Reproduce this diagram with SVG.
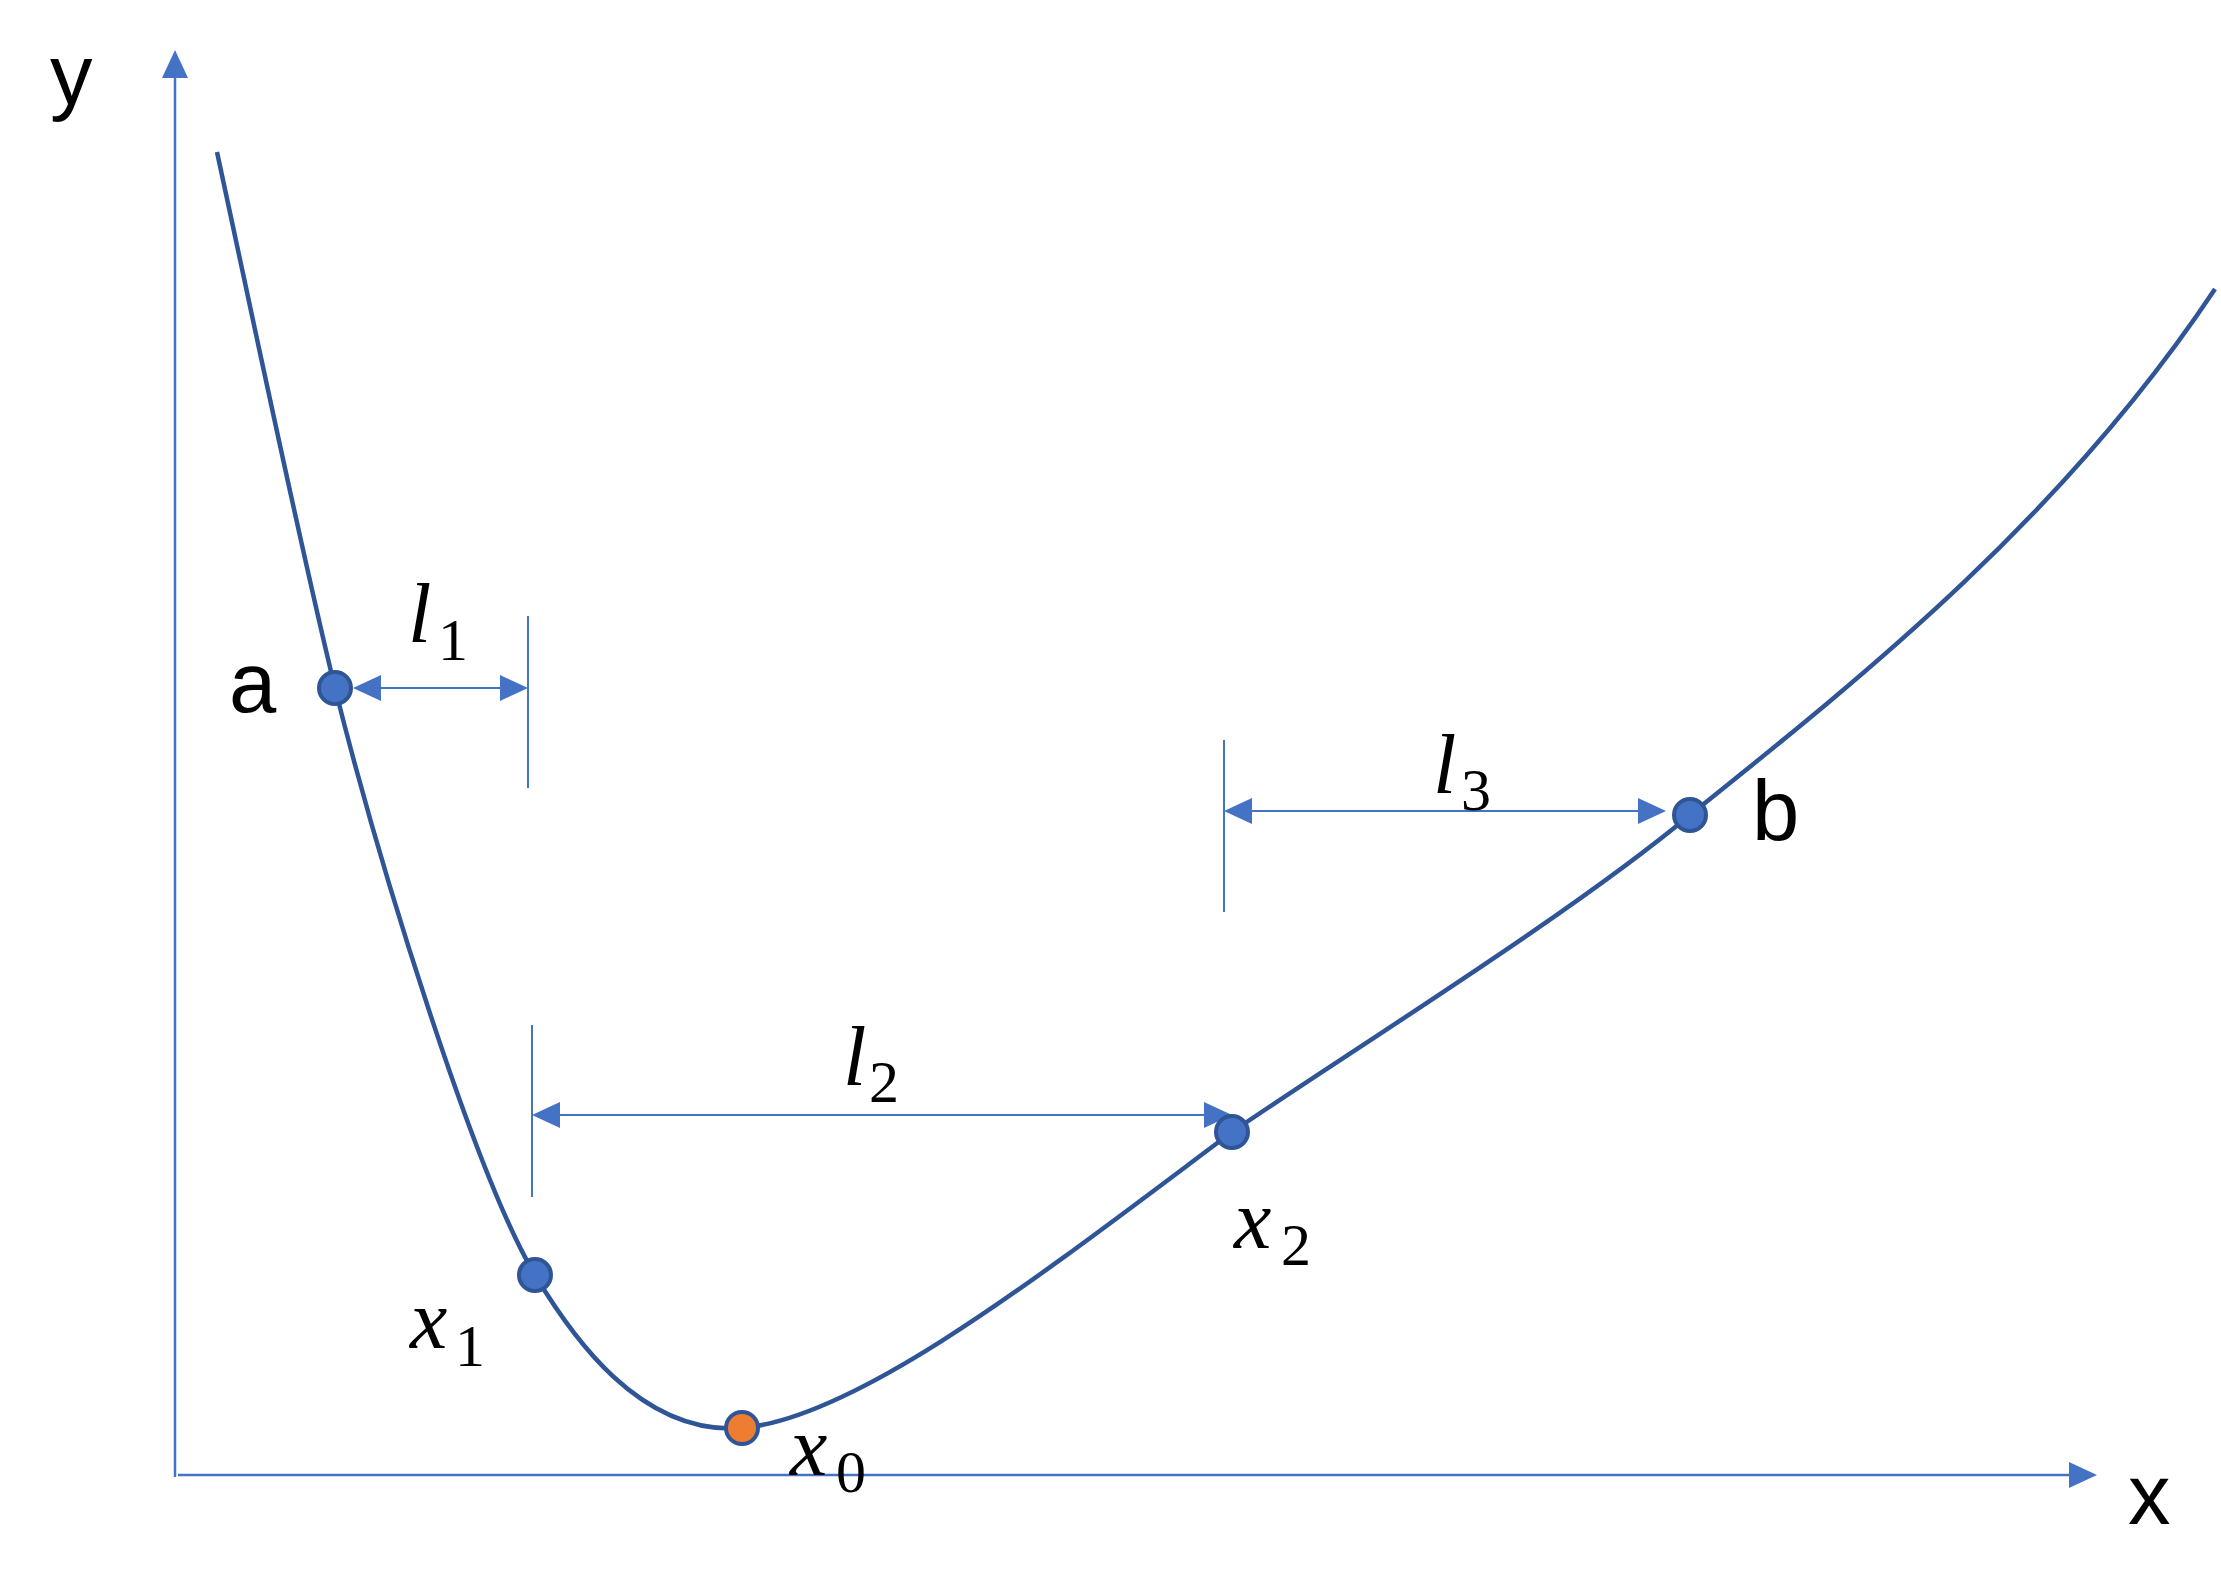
<svg xmlns="http://www.w3.org/2000/svg" width="2221" height="1593" viewBox="0 0 2221 1593">
<style>
.axis{stroke:#4472C4;stroke-width:2.5;fill:none}
.dim{stroke:#4472C4;stroke-width:2;fill:none}
.curve{stroke:#2F5597;stroke-width:4.5;fill:none;stroke-linecap:butt}
.dot{fill:#4472C4;stroke:#2F5597;stroke-width:4}
.dot0{fill:#ED7D31;stroke:#2F5597;stroke-width:4}
.lbl{font-family:"Liberation Sans",Arial,sans-serif;font-size:85px;fill:#000}
.mi{font-family:"Liberation Serif","Times New Roman",serif;font-style:italic;font-size:84px;fill:#000}
.sub{font-family:"Liberation Serif","Times New Roman",serif;font-size:60px;fill:#000}
.ah{fill:#4472C4}
</style>
<rect width="2221" height="1593" fill="#fff"/>
<g id="axes">
<line class="axis" x1="175" y1="1477" x2="175" y2="75"/>
<polygon class="ah" points="175,50 162,78 188,78"/>
<line class="axis" x1="178" y1="1475" x2="2072" y2="1475"/>
<polygon class="ah" points="2097,1475 2069,1462 2069,1488"/>
<text class="lbl" x="50" y="104">y</text>
<text class="lbl" x="2128" y="1524">x</text>
</g>
<g id="connectors">
<path class="curve" d="M217,152 C260,352 300,545 335,688 C380,868 475,1175 535,1275 C571,1335 640,1436 742,1428 C860,1418 1050,1268 1232,1132 C1352,1050 1570,915 1690,815 C1870,671 2065,514 2215,289"/>
<g id="dim-l1">
<line class="dim" x1="528" y1="616" x2="528" y2="788"/>
<line class="dim" x1="370" y1="688" x2="510" y2="688"/>
<polygon class="ah" points="353,688 381,675 381,701"/>
<polygon class="ah" points="528,688 500,675 500,701"/>
</g>
<g id="dim-l2">
<line class="dim" x1="532" y1="1025" x2="532" y2="1197"/>
<line class="dim" x1="550" y1="1115" x2="1210" y2="1115"/>
<polygon class="ah" points="532,1115 560,1102 560,1128"/>
<polygon class="ah" points="1232,1115 1204,1102 1204,1128"/>
</g>
<g id="dim-l3">
<line class="dim" x1="1224" y1="740" x2="1224" y2="912"/>
<line class="dim" x1="1240" y1="811" x2="1645" y2="811"/>
<polygon class="ah" points="1224,811 1252,798 1252,824"/>
<polygon class="ah" points="1666,811 1638,798 1638,824"/>
</g>
</g>
<g id="node-a">
<circle class="dot" cx="335" cy="688" r="16"/>
<text class="lbl" x="229" y="712">a</text>
</g>
<g id="node-x1">
<circle class="dot" cx="535" cy="1275" r="16"/>
<text class="mi" x="410" y="1348">x</text><text class="sub" x="455" y="1366">1</text>
</g>
<g id="node-x0">
<circle class="dot0" cx="742" cy="1428" r="16"/>
<text class="mi" x="790" y="1475">x</text><text class="sub" x="836" y="1492">0</text>
</g>
<g id="node-x2">
<circle class="dot" cx="1232" cy="1132" r="16"/>
<text class="mi" x="1234" y="1248">x</text><text class="sub" x="1281" y="1265">2</text>
</g>
<g id="node-b">
<circle class="dot" cx="1690" cy="815" r="16"/>
<text class="lbl" x="1752" y="840">b</text>
</g>
<g id="label-l1">
<text class="mi" x="408" y="642">l</text><text class="sub" x="438" y="660">1</text>
</g>
<g id="label-l2">
<text class="mi" x="843" y="1085">l</text><text class="sub" x="869" y="1102">2</text>
</g>
<g id="label-l3">
<text class="mi" x="1433" y="793">l</text><text class="sub" x="1461" y="810">3</text>
</g>
</svg>
